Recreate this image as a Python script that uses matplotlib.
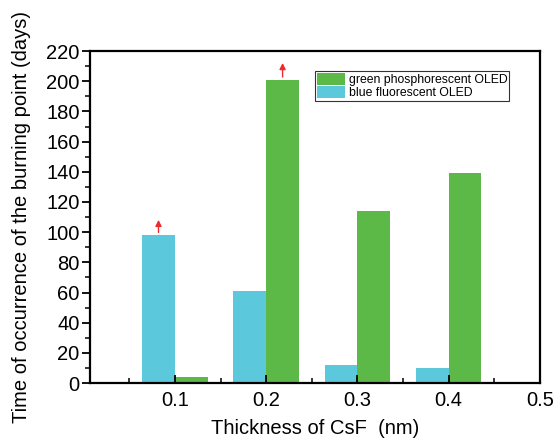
import matplotlib
matplotlib.use("Agg")
import matplotlib.pyplot as plt
import numpy as np
from matplotlib.ticker import MultipleLocator

plt.rcParams['font.family'] = ['Liberation Sans', 'DejaVu Sans']

# data
thickness = [0.1, 0.2, 0.3, 0.4]
blue_days = [98, 61, 12, 10]
green_days = [4, 201, 114, 139]
# bars that still had not burned in when measured (arrows)
arrow_blue = [True, False, False, False]
arrow_green = [False, True, False, False]

blue_col = '#5bc8dc'
green_col = '#5cb947'
w = 0.036

fig = plt.figure(figsize=(5.56, 4.41), dpi=100)
ax = fig.add_axes([0.162, 0.1315, 0.809, 0.7525])

x = np.array(thickness)
ax.bar(x - w, blue_days, width=w, align='edge', color=blue_col, label='blue fluorescent OLED')
ax.bar(x, green_days, width=w, align='edge', color=green_col, label='green phosphorescent OLED')

for xi, b, g, ab, ag in zip(x, blue_days, green_days, arrow_blue, arrow_green):
    if ab:
        ax.annotate('', xy=(xi - w / 2, b + 12), xytext=(xi - w / 2, b),
                    arrowprops=dict(arrowstyle='-|>', color='#ee2a2a', lw=1.0, mutation_scale=9))
    if ag:
        ax.annotate('', xy=(xi + w / 2, g + 13), xytext=(xi + w / 2, g),
                    arrowprops=dict(arrowstyle='-|>', color='#ee2a2a', lw=1.0, mutation_scale=9))

ax.set_xlim(0.007, 0.5)
ax.set_ylim(0, 220)
ax.xaxis.set_major_locator(MultipleLocator(0.1))
ax.xaxis.set_minor_locator(MultipleLocator(0.05))
ax.yaxis.set_major_locator(MultipleLocator(20))
ax.yaxis.set_minor_locator(MultipleLocator(10))
ax.set_xticks([0.1, 0.2, 0.3, 0.4, 0.5])
ax.set_xticklabels(['0.1', '0.2', '0.3', '0.4', '0.5'])

ax.tick_params(axis='x', which='major', direction='in', length=6, width=1.3, labelsize=14.5, pad=6)
ax.tick_params(axis='x', which='minor', direction='in', length=3.5, width=1.1)
ax.tick_params(axis='y', which='major', direction='out', length=6, width=1.3, labelsize=14.5, pad=1.5)
ax.tick_params(axis='y', which='minor', direction='out', length=3.5, width=1.1)
for s in ax.spines.values():
    s.set_linewidth(1.6)

ax.set_xlabel('Thickness of CsF  (nm)', fontsize=14.5, labelpad=6)
ax.set_ylabel('Time of occurrence of the burning point (days)', fontsize=14.5, labelpad=11)

h, l = ax.get_legend_handles_labels()
leg = ax.legend(h[::-1], l[::-1], loc='upper left', bbox_to_anchor=(0.5, 0.94),
                fontsize=8.8, frameon=True, fancybox=False, edgecolor='black',
                borderpad=0.15, labelspacing=0.0, handlelength=2.3, handleheight=1.15,
                handletextpad=0.3, borderaxespad=0.0)
leg.get_frame().set_linewidth(0.8)

fig.savefig('out.png', dpi=100)
